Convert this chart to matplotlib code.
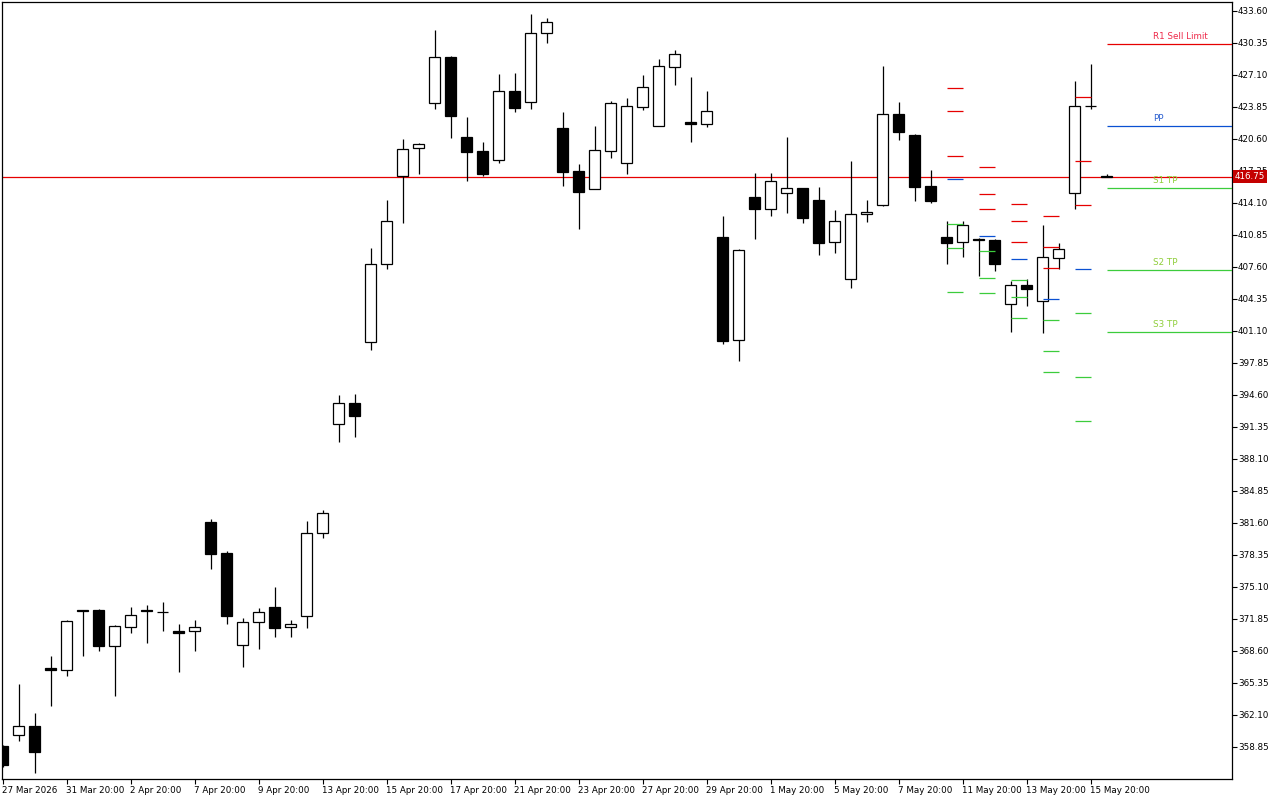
import numpy as np
import matplotlib.pyplot as plt
from matplotlib.transforms import blended_transform_factory

# OHLC of the 12h candles, left to right
opens = [358.95, 360.04, 360.95, 366.85, 366.64, 372.76, 372.76, 369.08, 371.07, 372.76,
         372.53, 370.60, 370.60, 381.70, 378.55, 369.18, 371.52, 373.07, 371.01, 372.19,
         380.55, 391.66, 393.76, 399.95, 407.87, 416.81, 419.66, 424.23, 428.93, 420.80,
         419.38, 418.50, 425.48, 424.33, 431.34, 421.72, 417.35, 415.55, 419.41, 418.19,
         423.88, 421.95, 427.94, 422.35, 422.15, 410.65, 400.14, 414.71, 413.52, 415.09,
         415.59, 414.37, 410.17, 406.35, 412.95, 413.87, 423.11, 421.01, 415.83, 410.62,
         410.11, 410.45, 410.34, 403.87, 405.74, 404.12, 408.48, 415.09, 423.92, 416.85]
highs = [359.10, 365.25, 362.30, 368.09, 371.75, 372.76, 372.83, 371.21, 373.07, 373.24,
         373.58, 371.34, 371.75, 382.01, 378.76, 371.95, 372.97, 375.10, 371.75, 381.80,
         382.92, 394.60, 394.70, 409.53, 414.41, 420.60, 420.22, 431.67, 429.03, 422.83,
         420.30, 427.20, 427.30, 433.30, 432.86, 423.34, 418.06, 421.92, 424.49, 424.76,
         427.10, 428.69, 429.64, 426.90, 425.48, 412.78, 409.43, 417.15, 417.15, 420.80,
         415.65, 415.73, 413.36, 418.37, 414.37, 428.01, 424.33, 421.10, 417.45, 412.27,
         412.27, 410.55, 410.45, 406.18, 406.38, 411.84, 410.01, 426.49, 428.22, 417.00]
lows = [356.85, 359.49, 356.24, 363.05, 366.09, 368.13, 368.63, 364.06, 370.46, 369.44,
        370.66, 366.50, 368.63, 376.96, 371.37, 367.01, 368.84, 370.05, 369.99, 370.97,
        380.11, 389.80, 390.37, 399.20, 407.43, 412.10, 417.08, 423.68, 420.73, 416.37,
        416.84, 418.19, 423.37, 423.68, 430.38, 415.86, 411.49, 415.50, 418.70, 417.08,
        423.55, 421.90, 426.08, 420.30, 421.85, 399.75, 398.05, 410.47, 412.81, 413.12,
        412.10, 408.85, 409.05, 405.50, 412.20, 413.80, 420.53, 414.33, 414.07, 407.94,
        408.65, 406.72, 407.22, 401.03, 403.67, 400.87, 407.37, 413.52, 423.62, 416.70]
closes = [357.02, 360.95, 358.38, 366.70, 371.62, 372.62, 369.14, 371.11, 372.23, 372.62,
          372.53, 370.46, 371.01, 378.48, 372.19, 371.52, 372.53, 370.97, 371.31, 380.59,
          382.59, 393.76, 392.50, 407.87, 412.24, 419.55, 420.06, 428.90, 422.97, 419.31,
          417.08, 425.48, 423.78, 431.34, 432.45, 417.25, 415.22, 419.45, 424.23, 423.92,
          425.85, 427.98, 429.20, 422.15, 423.41, 400.12, 409.33, 413.52, 416.30, 415.59,
          412.61, 410.07, 412.24, 412.95, 413.16, 423.11, 421.34, 415.76, 414.33, 410.07,
          411.84, 410.30, 407.94, 405.74, 405.40, 408.59, 409.40, 423.92, 423.92, 416.75]

x_labels = ["27 Mar 2026", "31 Mar 20:00", "2 Apr 20:00", "7 Apr 20:00", "9 Apr 20:00",
            "13 Apr 20:00", "15 Apr 20:00", "17 Apr 20:00", "21 Apr 20:00", "23 Apr 20:00",
            "27 Apr 20:00", "29 Apr 20:00", "1 May 20:00", "5 May 20:00", "7 May 20:00",
            "11 May 20:00", "13 May 20:00", "15 May 20:00"]

# daily pivot dashes of earlier days (first bar of each day)
piv_start = [59, 61, 63, 65, 67]
piv_res = [[425.75, 423.44, 418.84], [417.76, 415.01, 413.49], [413.97, 412.24, 410.11],
           [412.75, 409.60, 407.47], [424.84, 418.34, 413.87]]
piv_pp = [416.51, 410.72, 408.38, 404.32, 407.37]
piv_sup = [[411.94, 409.50, 405.03], [409.23, 406.45, 404.93], [406.25, 404.52, 402.39],
           [402.19, 399.04, 396.91], [402.90, 396.40, 391.93]]

# current day levels
level_names = ["R1 Sell Limit", "PP", "S1 TP", "S2 TP", "S3 TP"]
level_values = [430.22, 421.89, 415.59, 407.30, 400.97]
level_kind = ["res", "pp", "sup", "sup", "sup"]
last_price = 416.75

RED = "#e60000"
BLUE = "#0a50d2"
GREEN = "#3ccc3c"
text_col = {"res": "#ee2a4a", "pp": "#2a5fd0", "sup": "#8fce3a"}
line_col = {"res": RED, "pp": BLUE, "sup": GREEN}

plt.rcParams['font.family'] = ['DejaVu Sans']
fig = plt.figure(figsize=(12.8, 8), dpi=100)
ax = fig.add_axes([2 / 1280, 21 / 800, 1230 / 1280, 777 / 800])

n = len(opens)
xs = np.arange(n)
o = np.array(opens)
c = np.array(closes)
up = c >= o

ax.vlines(xs, lows, highs, color="black", lw=0.9, zorder=2)
ax.bar(xs, np.abs(c - o), bottom=np.minimum(o, c), width=0.68,
       color=np.where(up, "white", "black"), edgecolor="black", linewidth=0.9, zorder=3)

# last price line
ax.axhline(last_price, color=RED, lw=0.9, zorder=1)

# earlier pivots
for i, s in enumerate(piv_start):
    for v in piv_res[i]:
        ax.hlines(v, s, s + 1, color=RED, lw=0.9, zorder=4)
    ax.hlines(piv_pp[i], s, s + 1, color=BLUE, lw=0.9, zorder=4)
    for v in piv_sup[i]:
        ax.hlines(v, s, s + 1, color=GREEN, lw=0.9, zorder=4)

xmax = (1232 - 2.5) / 16
start = n - 1
for name, val, kind in zip(level_names, level_values, level_kind):
    ax.hlines(val, start, xmax, color=line_col[kind], lw=0.9, zorder=4)
    ax.annotate(name, (start + 2.9, val), xytext=(0, 2), textcoords="offset points",
                ha="left", va="bottom", fontsize=6.3, color=text_col[kind])

ax.set_xlim((2 - 2.5) / 16, xmax)
ax.set_ylim(355.6, 434.5)

yt = np.round(np.arange(358.85, 433.61, 3.25), 2)
ax.yaxis.tick_right()
ax.set_yticks(yt, [f"{v:.2f}" for v in yt])
ax.set_xticks(np.arange(0, 4 * len(x_labels), 4), x_labels, ha="left")
ax.tick_params(axis="both", direction="out", length=3.5, width=0.8, labelsize=6.3,
               colors="black", pad=0.8)
for lab in ax.get_xticklabels():
    lab.set_x(0)
ax.tick_params(axis="x", pad=1.5)

tr = blended_transform_factory(ax.transAxes, ax.transData)
ax.text(1.0025, last_price, "416.75", transform=tr, ha="left", va="center", fontsize=6.3,
        color="white", zorder=10, clip_on=False,
        bbox=dict(facecolor="#c40000", edgecolor="none", pad=1.3))

for sp in ax.spines.values():
    sp.set_color("black")
    sp.set_linewidth(0.9)

fig.savefig("out.png", dpi=100, facecolor="white")
